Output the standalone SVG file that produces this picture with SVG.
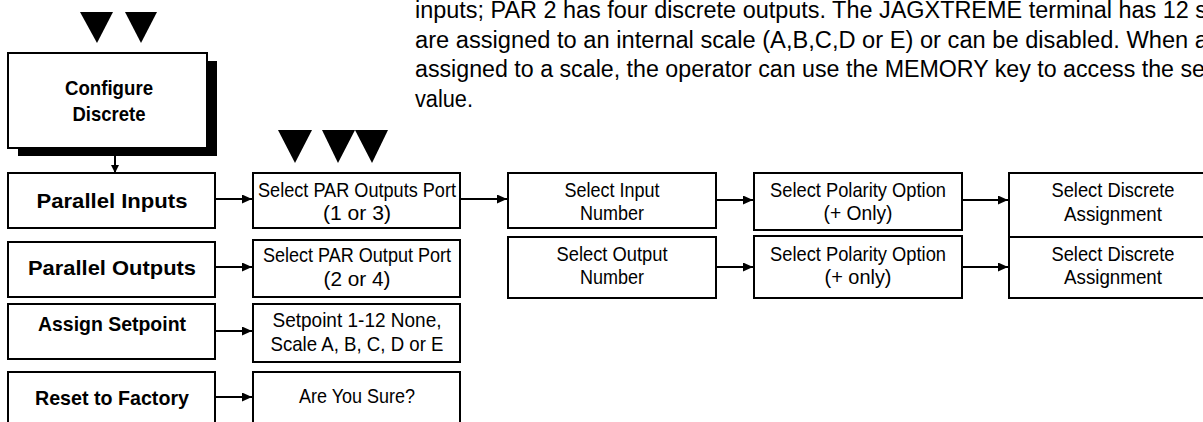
<svg xmlns="http://www.w3.org/2000/svg" width="1203" height="422" viewBox="0 0 1203 422">
<defs>
<style>
.box{fill:#fff;stroke:#000;stroke-width:2}
.b{font-family:"Liberation Sans",Arial,sans-serif;font-weight:bold;font-size:21px;fill:#000;text-anchor:middle}
.r{font-family:"Liberation Sans",Arial,sans-serif;font-size:21px;fill:#000;text-anchor:middle}
.p{font-family:"Liberation Sans",Arial,sans-serif;font-size:23px;fill:#000}
.c{stroke:#000;stroke-width:2;fill:none;marker-end:url(#ah)}
.tri{fill:#000}
</style>
<marker id="ah" markerUnits="userSpaceOnUse" markerWidth="10" markerHeight="9" refX="10" refY="4.5" orient="auto">
<path d="M0,0 L10,4.5 L0,9 z" fill="#000"/>
</marker>
<marker id="ahs" markerUnits="userSpaceOnUse" markerWidth="8" markerHeight="8" refX="8" refY="4" orient="auto">
<path d="M0,0 L8,4 L0,8 z" fill="#000"/>
</marker>
</defs>
<rect width="1203" height="422" fill="#fff"/>

<g id="paragraph">
<text class="p" x="415" y="18" textLength="792" lengthAdjust="spacingAndGlyphs">inputs; PAR 2 has four discrete outputs. The JAGXTREME terminal has 12 s</text>
<text class="p" x="415" y="48" textLength="793" lengthAdjust="spacingAndGlyphs">are assigned to an internal scale (A,B,C,D or E) or can be disabled. When a</text>
<text class="p" x="415" y="77" textLength="790" lengthAdjust="spacingAndGlyphs">assigned to a scale, the operator can use the MEMORY key to access the se</text>
<text class="p" x="415" y="107" textLength="58" lengthAdjust="spacingAndGlyphs">value.</text>
</g>

<g id="keys-top">
<path class="tri" d="M80,12 L113,12 L97,43 z"/>
<path class="tri" d="M125,12 L157,12 L141,43 z"/>
</g>
<g id="keys-mid">
<path class="tri" d="M278,130 L312,130 L295,163 z"/>
<path class="tri" d="M322,130 L355,130 L338,163 z"/>
<path class="tri" d="M355,130 L388,130 L372,163 z"/>
</g>

<g id="connectors">
<line x1="115" y1="156" x2="115" y2="173" style="stroke:#000;stroke-width:2;marker-end:url(#ahs)"/>
<line class="c" x1="216" y1="199" x2="252" y2="199"/>
<line class="c" x1="216" y1="267" x2="252" y2="267"/>
<line class="c" x1="216" y1="331" x2="252" y2="331"/>
<line class="c" x1="216" y1="397" x2="252" y2="397"/>
<line class="c" x1="461" y1="199" x2="507" y2="199"/>
<line class="c" x1="717" y1="200" x2="753" y2="200"/>
<line class="c" x1="963" y1="200" x2="1008" y2="200"/>
<line class="c" x1="717" y1="267" x2="753" y2="267"/>
<line class="c" x1="963" y1="267" x2="1008" y2="267"/>
</g>

<g id="configure-discrete">
<rect x="18" y="61" width="199" height="95" fill="#000"/>
<rect class="box" x="8" y="53" width="199" height="95"/>
<text class="b" x="109" y="95" textLength="88" lengthAdjust="spacingAndGlyphs">Configure</text>
<text class="b" x="109" y="121" textLength="73" lengthAdjust="spacingAndGlyphs">Discrete</text>
</g>

<g id="parallel-inputs">
<rect class="box" x="8" y="173" width="207" height="55"/>
<text class="b" x="112" y="208" textLength="151" lengthAdjust="spacingAndGlyphs">Parallel Inputs</text>
</g>
<g id="parallel-outputs">
<rect class="box" x="8" y="242" width="207" height="55"/>
<text class="b" x="112" y="275" textLength="168" lengthAdjust="spacingAndGlyphs">Parallel Outputs</text>
</g>
<g id="assign-setpoint">
<rect class="box" x="8" y="304" width="207" height="55"/>
<text class="b" x="112" y="331" textLength="148" lengthAdjust="spacingAndGlyphs">Assign Setpoint</text>
</g>
<g id="reset-factory">
<rect class="box" x="8" y="372" width="207" height="60"/>
<text class="b" x="112" y="405" textLength="154" lengthAdjust="spacingAndGlyphs">Reset to Factory</text>
</g>

<g id="select-par-outputs">
<rect class="box" x="253" y="173" width="207" height="55"/>
<text class="r" x="357" y="197" textLength="198" lengthAdjust="spacingAndGlyphs">Select PAR Outputs Port</text>
<text class="r" x="357" y="220" textLength="68" lengthAdjust="spacingAndGlyphs">(1 or 3)</text>
</g>
<g id="select-par-output">
<rect class="box" x="253" y="240" width="207" height="57"/>
<text class="r" x="357" y="262" textLength="188" lengthAdjust="spacingAndGlyphs">Select PAR Output Port</text>
<text class="r" x="357" y="286" textLength="67" lengthAdjust="spacingAndGlyphs">(2 or 4)</text>
</g>
<g id="setpoint">
<rect class="box" x="253" y="304" width="207" height="58"/>
<text class="r" x="357" y="327" textLength="169" lengthAdjust="spacingAndGlyphs">Setpoint 1-12 None,</text>
<text class="r" x="357" y="351" textLength="173" lengthAdjust="spacingAndGlyphs">Scale A, B, C, D or E</text>
</g>
<g id="are-you-sure">
<rect class="box" x="253" y="372" width="207" height="60"/>
<text class="r" x="357" y="403" textLength="116" lengthAdjust="spacingAndGlyphs">Are You Sure?</text>
</g>

<g id="select-input-number">
<rect class="box" x="508" y="173" width="208" height="55"/>
<text class="r" x="612" y="197" textLength="95" lengthAdjust="spacingAndGlyphs">Select Input</text>
<text class="r" x="612" y="220" textLength="64" lengthAdjust="spacingAndGlyphs">Number</text>
</g>
<g id="polarity-1">
<rect class="box" x="754" y="173" width="208" height="57"/>
<text class="r" x="858" y="197" textLength="176" lengthAdjust="spacingAndGlyphs">Select Polarity Option</text>
<text class="r" x="858" y="220" textLength="69" lengthAdjust="spacingAndGlyphs">(+ Only)</text>
</g>
<g id="discrete-1">
<rect class="box" x="1009" y="173" width="208" height="64"/>
<text class="r" x="1113" y="197" textLength="123" lengthAdjust="spacingAndGlyphs">Select Discrete</text>
<text class="r" x="1113" y="221" textLength="98" lengthAdjust="spacingAndGlyphs">Assignment</text>
</g>
<g id="select-output-number">
<rect class="box" x="508" y="237" width="208" height="61"/>
<text class="r" x="612" y="261" textLength="111" lengthAdjust="spacingAndGlyphs">Select Output</text>
<text class="r" x="612" y="284" textLength="64" lengthAdjust="spacingAndGlyphs">Number</text>
</g>
<g id="polarity-2">
<rect class="box" x="754" y="236" width="208" height="62"/>
<text class="r" x="858" y="261" textLength="176" lengthAdjust="spacingAndGlyphs">Select Polarity Option</text>
<text class="r" x="858" y="284" textLength="67" lengthAdjust="spacingAndGlyphs">(+ only)</text>
</g>
<g id="discrete-2">
<rect class="box" x="1009" y="237" width="208" height="61"/>
<text class="r" x="1113" y="261" textLength="123" lengthAdjust="spacingAndGlyphs">Select Discrete</text>
<text class="r" x="1113" y="284" textLength="98" lengthAdjust="spacingAndGlyphs">Assignment</text>
</g>
</svg>
